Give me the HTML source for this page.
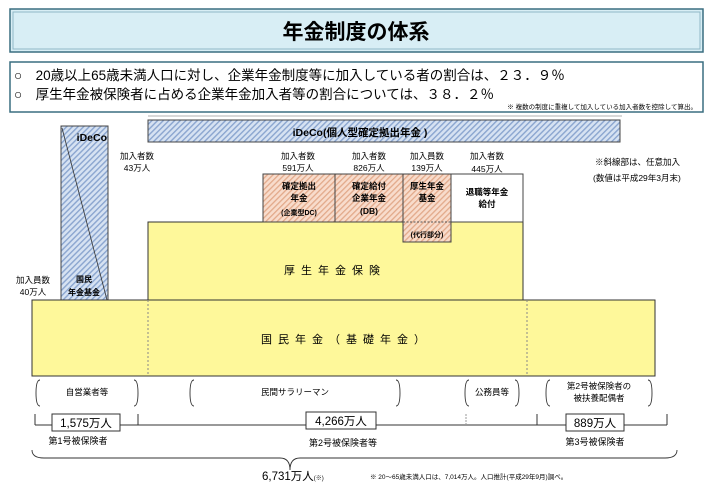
<!DOCTYPE html>
<html><head><meta charset="utf-8"><style>
body{margin:0;background:#fff;}
svg{display:block;font-family:"Liberation Sans","Noto Sans CJK JP",sans-serif;}
</style></head><body>
<svg width="709" height="484" viewBox="0 0 709 484" xmlns="http://www.w3.org/2000/svg">
<defs>
<pattern id="hb" width="4" height="4" patternUnits="userSpaceOnUse" patternTransform="rotate(45)">
<rect width="4" height="4" fill="#d6e2f2"/><rect width="1.4" height="4" fill="#8aa5cf"/></pattern>
<pattern id="hp" width="4" height="4" patternUnits="userSpaceOnUse" patternTransform="rotate(45)">
<rect width="4" height="4" fill="#f8dccc"/><rect width="1.3" height="4" fill="#e2a98a"/></pattern>
</defs>
<!-- title -->
<rect x="10" y="9" width="693" height="43" fill="#d8eef5" stroke="#3a6e80" stroke-width="1.5"/>
<rect x="13" y="12" width="687" height="37" fill="none" stroke="#8fb8c6" stroke-width="1"/>
<text x="356" y="39" font-size="21" font-weight="bold" text-anchor="middle" fill="#000">年金制度の体系</text>
<!-- info box -->
<rect x="10" y="62" width="693" height="50" fill="#fff" stroke="#3a6e80" stroke-width="1.5"/>
<text x="14" y="80" font-size="13.5">○　20歳以上65歳未満人口に対し、企業年金制度等に加入している者の割合は、２３．９％</text>
<text x="14" y="99" font-size="13.5">○　厚生年金被保険者に占める企業年金加入者等の割合については、３８．２％</text>
<text x="697" y="109" font-size="6.5" text-anchor="end">※ 複数の制度に重複して加入している加入者数を控除して算出。</text>
<line x1="148" y1="116" x2="622" y2="116" stroke="#999" stroke-width="0.7"/>
<!-- iDeCo top bar -->
<rect x="148" y="120" width="472" height="22" fill="url(#hb)" stroke="#444"/>
<text x="360" y="136" font-size="10.5" font-weight="bold" text-anchor="middle">iDeCo(個人型確定拠出年金 )</text>
<!-- left iDeCo column -->
<rect x="61" y="126" width="47" height="174" fill="url(#hb)" stroke="#444"/>
<line x1="62" y1="128" x2="107" y2="300" stroke="#333" stroke-width="0.8"/>
<text x="107" y="141" font-size="10.5" font-weight="bold" text-anchor="end">iDeCo</text>
<text x="84" y="282" font-size="8" font-weight="bold" text-anchor="middle">国民</text>
<text x="84" y="295" font-size="8" font-weight="bold" text-anchor="middle">年金基金</text>
<text x="137" y="159" font-size="8.5" text-anchor="middle">加入者数</text>
<text x="137" y="171" font-size="8.5" text-anchor="middle">43万人</text>
<text x="33" y="283" font-size="8.5" text-anchor="middle">加入員数</text>
<text x="33" y="295" font-size="8.5" text-anchor="middle">40万人</text>
<!-- counts -->
<g font-size="8.5" text-anchor="middle">
<text x="298" y="159">加入者数</text><text x="298" y="171">591万人</text>
<text x="369" y="159">加入者数</text><text x="369" y="171">826万人</text>
<text x="427" y="159">加入員数</text><text x="427" y="171">139万人</text>
<text x="487" y="159">加入者数</text><text x="487" y="172">445万人</text>
</g>
<text x="595" y="165" font-size="8.5">※斜線部は、任意加入</text>
<text x="593" y="181" font-size="8.5">(数値は平成29年3月末)</text>
<!-- yellow kosei -->
<rect x="148" y="222" width="375" height="80" fill="#fef89a" stroke="#333"/>
<text x="335" y="274" font-size="11" text-anchor="middle" letter-spacing="6">厚生年金保険</text>
<!-- pink boxes -->
<rect x="263" y="174" width="72" height="48" fill="url(#hp)" stroke="#444"/>
<rect x="335" y="174" width="68" height="48" fill="url(#hp)" stroke="#444"/>
<rect x="403" y="174" width="48" height="68" fill="url(#hp)" stroke="#444"/>
<line x1="403" y1="222" x2="451" y2="222" stroke="#555" stroke-dasharray="2,1.5"/>
<rect x="451" y="174" width="72" height="48" fill="#fff" stroke="#444"/>
<g font-size="8.5" font-weight="bold" text-anchor="middle">
<text x="299" y="189">確定拠出</text><text x="299" y="201">年金</text><text x="299" y="215" font-size="7">(企業型DC)</text>
<text x="369" y="189">確定給付</text><text x="369" y="201">企業年金</text><text x="369" y="214">(DB)</text>
<text x="427" y="189">厚生年金</text><text x="427" y="201">基金</text><text x="427" y="237" font-size="7">(代行部分)</text>
<text x="487" y="195">退職等年金</text><text x="487" y="207">給付</text>
</g>
<!-- kokumin -->
<rect x="32" y="300" width="623" height="76" fill="#fef89a" stroke="#333"/>
<line x1="148" y1="300" x2="148" y2="376" stroke="#888" stroke-dasharray="2,2"/>
<line x1="527" y1="300" x2="527" y2="376" stroke="#888" stroke-dasharray="2,2"/>
<text x="346" y="343" font-size="11" text-anchor="middle" letter-spacing="6">国民年金（基礎年金）</text>
<!-- brackets -->
<g fill="none" stroke="#333" stroke-width="0.9">
<path d="M40 380 Q36 380 36 393 Q36 406 40 406"/><path d="M134 380 Q138 380 138 393 Q138 406 134 406"/>
<path d="M194 380 Q190 380 190 393 Q190 406 194 406"/><path d="M396 380 Q400 380 400 393 Q400 406 396 406"/>
<path d="M469 380 Q465 380 465 393 Q465 406 469 406"/><path d="M515 380 Q519 380 519 393 Q519 406 515 406"/>
<path d="M550 380 Q546 380 546 393 Q546 406 550 406"/><path d="M648 380 Q652 380 652 393 Q652 406 648 406"/>
</g>
<g font-size="8.5" text-anchor="middle">
<text x="87" y="395">自営業者等</text>
<text x="295" y="395">民間サラリーマン</text>
<text x="492" y="395">公務員等</text>
<text x="599" y="389">第2号被保険者の</text>
<text x="599" y="401">被扶養配偶者</text>
</g>
<!-- count line -->
<line x1="35" y1="425" x2="667" y2="425" stroke="#333"/>
<g stroke="#333"><line x1="35" y1="414" x2="35" y2="425"/><line x1="138" y1="414" x2="138" y2="425"/><line x1="537" y1="414" x2="537" y2="425"/><line x1="667" y1="414" x2="667" y2="425"/></g>
<line x1="466" y1="414" x2="466" y2="425" stroke="#999" stroke-dasharray="2,1"/>
<rect x="52" y="414" width="68" height="17" fill="#fff" stroke="#333"/>
<rect x="306" y="412" width="70" height="17" fill="#fff" stroke="#333"/>
<rect x="566" y="414" width="58" height="17" fill="#fff" stroke="#333"/>
<g font-size="11.5" text-anchor="middle">
<text x="86" y="427">1,575万人</text><text x="341" y="425">4,266万人</text><text x="595" y="427">889万人</text>
</g>
<g font-size="9" text-anchor="middle">
<text x="78" y="444">第1号被保険者</text><text x="343" y="446">第2号被保険者等</text><text x="595" y="445">第3号被保険者</text>
</g>
<path d="M32 450 Q32 458 44 458 L280 458 Q290 458 290 470 Q290 458 300 458 L665 458 Q677 458 677 450" fill="none" stroke="#333" stroke-width="0.9"/>
<text x="262" y="480" font-size="11.5">6,731万人<tspan font-size="6">(※)</tspan></text>
<text x="370" y="479" font-size="6.5">※ 20～65歳未満人口は、7,014万人。人口推計(平成29年9月)調べ。</text>
</svg>
</body></html>
